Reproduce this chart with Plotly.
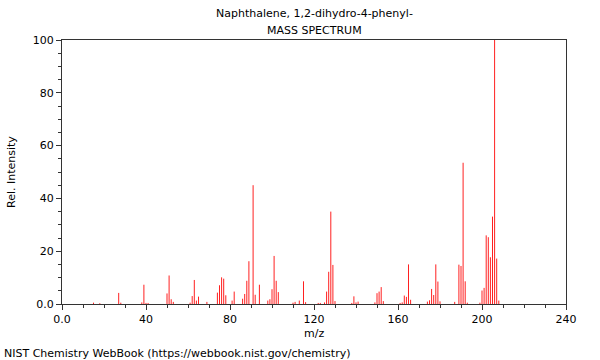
import plotly.graph_objects as go

mz = [15, 18, 27, 28, 38, 39, 40, 41, 50, 51, 52, 53, 61, 62, 63, 64, 65, 69,
      74, 75, 76, 77, 78, 81, 82, 86, 87, 88, 89, 91, 92, 94, 98, 99, 100, 101,
      102, 103, 110, 111, 113, 115, 116, 122, 123, 125, 126, 127, 128, 129, 130,
      138, 139, 140, 141, 149, 150, 151, 152, 153, 161, 162, 163, 164, 165, 166,
      174, 175, 176, 177, 178, 179, 180, 187, 189, 190, 191, 192, 193, 199, 200,
      201, 202, 203, 204, 205, 206, 207, 208]
intensity = [0.5, 0.3, 4.2, 0.5, 0.6, 7.3, 0.4, 0.4, 4.0, 10.8, 1.8, 0.8, 0.5, 3.0,
             9.1, 1.3, 2.8, 0.8, 4.3, 7.1, 10.1, 9.6, 3.3, 1.3, 4.7, 2.0, 3.8, 8.8,
             16.2, 45.0, 3.5, 7.3, 1.3, 1.8, 5.6, 18.2, 8.8, 4.5, 0.5, 0.8, 1.3, 8.6,
             0.7, 0.4, 0.4, 0.6, 4.7, 12.2, 35.0, 14.8, 1.1, 0.4, 2.9, 0.6, 0.9, 0.6,
             4.1, 4.7, 6.4, 1.1, 0.4, 0.6, 3.2, 2.7, 15.0, 1.6, 0.9, 1.4, 5.7, 3.4,
             15.0, 8.5, 1.0, 0.8, 14.9, 14.4, 53.5, 8.6, 0.5, 0.5, 5.1, 6.1, 26.0,
             25.3, 17.7, 33.1, 100.0, 17.2, 1.3]

x_tickvals = [0, 40, 80, 120, 160, 200, 240]
x_ticktext = ["0.0", "40", "80", "120", "160", "200", "240"]
y_tickvals = [0, 20, 40, 60, 80, 100]
y_ticktext = ["0.0", "20", "40", "60", "80", "100"]

title_line1 = "Naphthalene, 1,2-dihydro-4-phenyl-"
title_line2 = "MASS SPECTRUM"
x_title = "m/z"
y_title = "Rel. Intensity"
footer = "NIST Chemistry WebBook (https://webbook.nist.gov/chemistry)"

FONT = "DejaVu Sans"
AXIS_COLOR = "#333333"
BAR_COLOR = "#ff2020"

# stick spectrum: one vertical segment per peak, built from the data arrays
stem_x, stem_y = [], []
for m, v in zip(mz, intensity):
    stem_x += [m, m, None]
    stem_y += [0, v, None]

fig = go.Figure(go.Scatter(x=stem_x, y=stem_y, mode="lines",
                           line=dict(color=BAR_COLOR, width=1), hoverinfo="skip"))

axis_common = dict(showgrid=False, zeroline=False, showline=True, linecolor=AXIS_COLOR,
                   linewidth=1, mirror=True, ticks="outside", ticklen=5, tickcolor=AXIS_COLOR,
                   tickfont=dict(family=FONT, size=11, color="#000"))

fig.update_xaxes(range=[0, 240], tickvals=x_tickvals, ticktext=x_ticktext,
                 minor=dict(dtick=10, tick0=0, ticks="outside", ticklen=3, tickcolor=AXIS_COLOR),
                 **axis_common)
fig.update_yaxes(range=[0, 100], tickvals=y_tickvals, ticktext=y_ticktext,
                 minor=dict(dtick=5, tick0=0, ticks="outside", ticklen=3, tickcolor=AXIS_COLOR),
                 **axis_common)

ann_font = dict(family=FONT, size=11, color="#000")
fig.update_layout(
    width=600, height=360,
    margin=dict(l=62, r=34, t=40, b=56),
    paper_bgcolor="white", plot_bgcolor="white",
    showlegend=False,
    annotations=[
        dict(text=title_line1, xref="paper", yref="paper", x=0.5, y=1, yshift=27,
             xanchor="center", yanchor="middle", showarrow=False, font=ann_font),
        dict(text=title_line2, xref="paper", yref="paper", x=0.5, y=1, yshift=10,
             xanchor="center", yanchor="middle", showarrow=False, font=ann_font),
        dict(text=x_title, xref="paper", yref="paper", x=0.5, y=0, yshift=-29,
             xanchor="center", yanchor="middle", showarrow=False, font=ann_font),
        dict(text=y_title, xref="paper", yref="paper", x=0, y=0.5, xshift=-51,
             xanchor="center", yanchor="middle", textangle=-90, showarrow=False, font=ann_font),
        dict(text=footer, xref="paper", yref="paper", x=0, y=0, xshift=-60, yshift=-49,
             xanchor="left", yanchor="middle", showarrow=False, font=ann_font),
    ],
)

fig.write_html("out.html", config={"displayModeBar": False},
               post_script="document.body.style.margin='0px';")
